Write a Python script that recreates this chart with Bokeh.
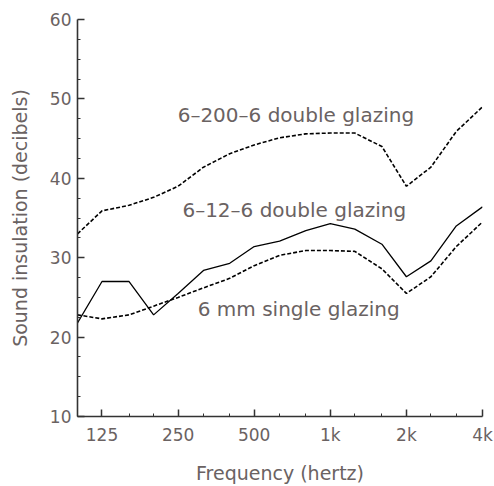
from bokeh.plotting import figure
from bokeh.models import FixedTicker, Label
from bokeh.embed import file_html
from bokeh.resources import INLINE

# Third-octave centre frequencies (Hz)
freqs = [100, 125, 160, 200, 250, 315, 400, 500, 630, 800, 1000, 1250, 1600, 2000, 2500, 3150, 4000]
# Sound insulation (dB)
double_200 = [33.0, 35.9, 36.6, 37.6, 39.0, 41.4, 43.1, 44.2, 45.1, 45.6, 45.7, 45.7, 44.0, 39.0, 41.4, 45.9, 49.0]
double_12 = [21.8, 27.0, 27.0, 22.8, 25.5, 28.4, 29.3, 31.4, 32.1, 33.4, 34.3, 33.6, 31.7, 27.6, 29.6, 34.0, 36.4]
single_6 = [22.8, 22.3, 22.8, 23.9, 25.0, 26.2, 27.4, 29.0, 30.3, 30.9, 30.9, 30.8, 28.6, 25.5, 27.6, 31.4, 34.5]

x_ticks = [125, 250, 500, 1000, 2000, 4000]
x_tick_labels = ["125", "250", "500", "1k", "2k", "4k"]
x_minor = [100, 160, 200, 315, 400, 630, 800, 1250, 1600, 2500, 3150]
y_ticks = [10, 20, 30, 40, 50, 60]
y_minor = [12.5, 15, 17.5, 22.5, 25, 27.5, 32.5, 35, 37.5, 42.5, 45, 47.5, 52.5, 55, 57.5]

series_labels = ["6\u2013200\u20136 double glazing", "6\u201312\u20136 double glazing", "6 mm single glazing"]
label_x = [249, 260, 299]
label_y = [48.0, 36.0, 23.6]

FONT = "DejaVu Sans"
TXT = "#6a6262"

p = figure(width=494, height=486, x_axis_type="log", x_range=(100, 4000), y_range=(10, 60),
           output_backend="svg", toolbar_location=None,
           min_border_left=77, min_border_top=19, min_border_right=12, min_border_bottom=68)
p.outline_line_color = None
p.xgrid.visible = False
p.ygrid.visible = False
p.background_fill_color = "white"
p.border_fill_color = "white"

p.line(freqs, double_200, line_color="black", line_width=1.6, line_dash="4 2")
p.line(freqs, double_12, line_color="black", line_width=1.3)
p.line(freqs, single_6, line_color="black", line_width=1.6, line_dash="4 2")

for t, xx, yy in zip(series_labels, label_x, label_y):
    p.add_layout(Label(x=xx, y=yy, text=t, text_font=FONT, text_font_size="20px",
                       text_color=TXT, text_baseline="middle", text_align="left"))

p.xaxis.ticker = FixedTicker(ticks=x_ticks, minor_ticks=x_minor)
p.xaxis.major_label_overrides = {k: v for k, v in zip(x_ticks, x_tick_labels)}
p.yaxis.ticker = FixedTicker(ticks=y_ticks, minor_ticks=y_minor)

for ax in (p.xaxis[0], p.yaxis[0]):
    ax.axis_line_color = "#333333"
    ax.axis_line_width = 1.6
    ax.major_tick_line_color = "#333333"
    ax.major_tick_line_width = 1.5
    ax.major_tick_in = 7
    ax.major_tick_out = 0
    ax.minor_tick_line_color = "#333333"
    ax.minor_tick_in = 3
    ax.minor_tick_out = 0
    ax.major_label_text_font = FONT
    ax.major_label_text_font_size = "17px"
    ax.major_label_text_color = TXT
    ax.axis_label_text_font = FONT
    ax.axis_label_text_font_size = "19px"
    ax.axis_label_text_color = TXT
    ax.axis_label_text_font_style = "normal"

p.xaxis.axis_label = "Frequency (hertz)"
p.yaxis.axis_label = "Sound insulation (decibels)"
p.xaxis.major_label_standoff = 8
p.yaxis.major_label_standoff = 6
p.xaxis.axis_label_standoff = 14
p.yaxis.axis_label_standoff = 16

open("out.html", "w").write(file_html(p, INLINE))
